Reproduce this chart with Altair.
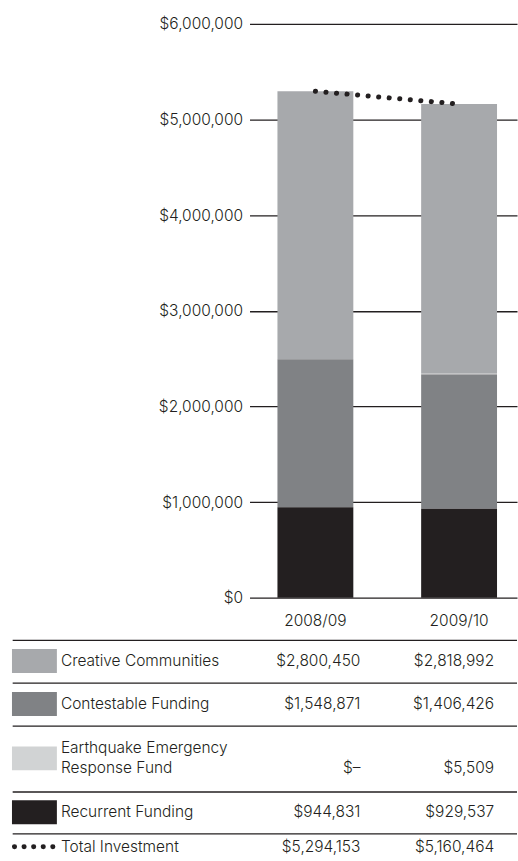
import altair as alt
import pandas as pd

# ---------------- data ----------------
years = ["2008/09", "2009/10"]
categories = [
    "Creative Communities",
    "Contestable Funding",
    "Earthquake Emergency Response Fund",
    "Recurrent Funding",
]
creative = [2800450, 2818992]
contestable = [1548871, 1406426]
earthquake = [0, 5509]
recurrent = [944831, 929537]
total = [5294153, 5160464]
y_ticks = [0, 1000000, 2000000, 3000000, 4000000, 5000000, 6000000]

# ---------------- styles ----------------
FONT = "Inter"
TXT = "#231f20"
LINE = "#231f20"
FS = 15.5
FW = 300
colors = ["#a7a9ac", "#808285", "#d1d3d4", "#231f20"]
stack_order = [4, 2, 3, 1]  # 1 = bottom of the stack
W = 506

series = [creative, contestable, earthquake, recurrent]
recs = []
for cat, vals, o in zip(categories, series, stack_order):
    for yr, v in zip(years, vals):
        recs.append({"year": yr, "category": cat, "value": v, "order": o})
bars_df = pd.DataFrame(recs)
total_df = pd.DataFrame({"year": years, "total": total})

x_scale = alt.Scale(domain=years, range=[238, W], paddingInner=0.472,
                    paddingOuter=0.1667, align=0.583)

bars = alt.Chart(bars_df).mark_bar().encode(
    x=alt.X("year:N", scale=x_scale, sort=years,
            axis=alt.Axis(title=None, domain=False, ticks=False, labelAngle=0,
                          labelPadding=16, labelFontSize=FS, labelFont=FONT,
                          labelFontWeight=FW, labelColor=TXT)),
    y=alt.Y("value:Q", stack="zero", scale=alt.Scale(domain=[0, 6000000]),
            axis=alt.Axis(values=y_ticks, format="$,.0f", title=None,
                          domain=False, ticks=False, tickSize=0, labelPadding=7,
                          offset=-238, grid=True, gridColor=LINE, gridWidth=1.3,
                          gridOpacity=1, labelFontSize=FS, labelFont=FONT,
                          labelFontWeight=FW, labelColor=TXT)),
    color=alt.Color("category:N", scale=alt.Scale(domain=categories, range=colors),
                    legend=None),
    order=alt.Order("order:Q"),
)

line = alt.Chart(total_df).mark_line(
    strokeDash=[0.1, 10.5], strokeCap="round", strokeWidth=5, color=LINE
).encode(
    x=alt.X("year:N", scale=x_scale, sort=years),
    y=alt.Y("total:Q"),
)

top = alt.layer(bars, line).properties(width=W, height=575)


def fmt(v):
    return "$–" if v == 0 else "${:,}".format(v)


row_names = [
    "Creative Communities",
    "Contestable Funding",
    "Earthquake Emergency\nResponse Fund",
    "Recurrent Funding",
    "Total Investment",
]
row_values = [creative, contestable, earthquake, recurrent, total]
row_colors = colors + [None]
row_heights = [43, 43, 66, 42, 27]


def row_chart(name, vals, col, h, two_lines):
    vdf = pd.DataFrame({"year": years, "label": [fmt(v) for v in vals]})
    one = pd.DataFrame({"name": [name]})
    layers = [
        alt.Chart(one).mark_rule(color=LINE, strokeWidth=1.3).encode(
            x=alt.value(0.7), x2=alt.value(W), y=alt.value(0.7)),
        alt.Chart(one).mark_text(align="left", baseline="middle", font=FONT,
                                 fontSize=FS, fontWeight=FW, color=TXT,
                                 lineBreak="\n", lineHeight=20,
                                 dy=-10 if two_lines else 0).encode(
            x=alt.value(49), text="name:N"),
        alt.Chart(vdf).mark_text(align="right", baseline="middle", font=FONT,
                                 fontSize=FS, fontWeight=FW, color=TXT,
                                 dx=33, dy=10 if two_lines else 0).encode(
            x=alt.X("year:N", scale=x_scale, sort=years, axis=None),
            text="label:N"),
    ]
    if col is not None:
        layers.append(alt.Chart(one).mark_rect(color=col).encode(
            x=alt.value(0), x2=alt.value(45),
            y=alt.value(h / 2 - 12), y2=alt.value(h / 2 + 12)))
    else:
        layers.append(alt.Chart(one).mark_rule(
            color=LINE, strokeDash=[0.1, 9.5], strokeCap="round", strokeWidth=5
        ).encode(x=alt.value(2.5), x2=alt.value(45), y=alt.value(h / 2)))
    return alt.layer(*layers).properties(width=W, height=h)


rows = []
for name, vals, col, h in zip(row_names, row_values, row_colors, row_heights):
    rows.append(row_chart(name, vals, col, h, "\n" in name))

table = alt.vconcat(*rows, spacing=0)

chart = alt.vconcat(top, table, spacing=10).properties(
    padding={"left": 12, "top": 16, "right": 0, "bottom": 0}
).configure_view(stroke=None)

chart.save("out.html", embed_options={"renderer": "svg", "actions": False})
